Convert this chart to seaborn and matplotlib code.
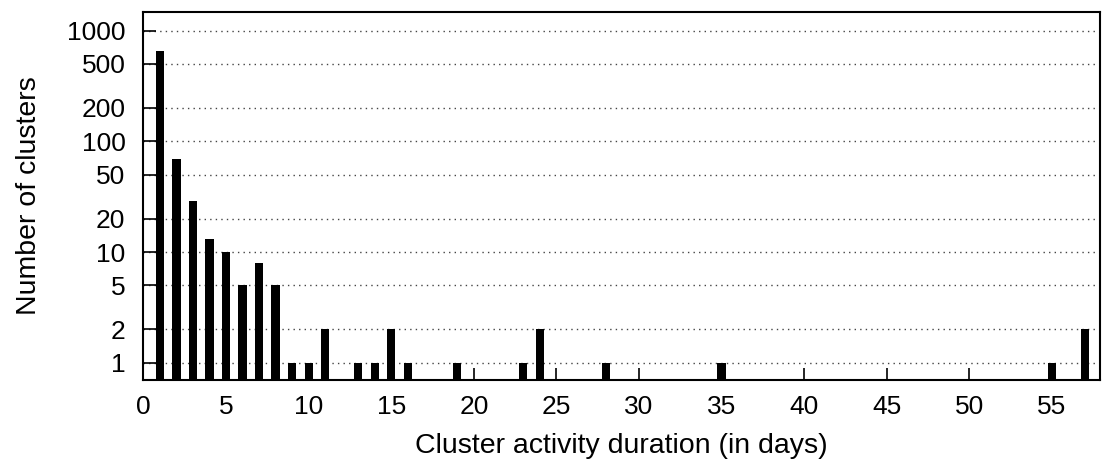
import matplotlib
matplotlib.use("Agg")
import matplotlib.pyplot as plt
from matplotlib.ticker import FixedLocator, FixedFormatter, NullLocator
import pandas as pd
import seaborn as sns

# Activity duration (days) and number of clusters with that duration
days = [1, 2, 3, 4, 5, 6, 7, 8, 9, 10, 11, 13, 14, 15, 16, 19, 23, 24, 28, 35, 55, 57]
clusters = [660, 69, 29, 13, 10, 5, 8, 5, 1, 1, 2, 1, 1, 2, 1, 1, 1, 2, 1, 1, 1, 2]

y_ticks = [1, 2, 5, 10, 20, 50, 100, 200, 500, 1000]
x_ticks = list(range(0, 56, 5))

sns.set_theme(style="white")
plt.rcParams["font.family"] = ["Liberation Sans", "DejaVu Sans"]

df = pd.DataFrame({"days": days, "clusters": clusters})

fig = plt.figure(figsize=(11.02, 4.69), dpi=100)
ax = fig.add_axes([0.1302, 0.19, 0.998 - 0.1302, 0.975 - 0.19])

sns.barplot(data=df, x="days", y="clusters", native_scale=True, width=0.5,
            color="black", saturation=1, linewidth=0, ax=ax, zorder=3)
ax.set_yscale("log")

ax.set_xlim(0, 57.9)
ax.set_ylim(0.7, 1480)

ax.yaxis.set_major_locator(FixedLocator(y_ticks))
ax.yaxis.set_major_formatter(FixedFormatter([str(v) for v in y_ticks]))
ax.yaxis.set_minor_locator(NullLocator())
ax.xaxis.set_major_locator(FixedLocator(x_ticks))
ax.xaxis.set_major_formatter(FixedFormatter([str(v) for v in x_ticks]))
ax.xaxis.set_minor_locator(NullLocator())

ax.tick_params(axis="both", direction="in", length=9, width=1.2, color="black",
               labelsize=19, labelcolor="black")
ax.tick_params(axis="y", pad=13, left=True, right=False)
ax.tick_params(axis="x", pad=11, bottom=True, top=False)

ax.grid(True, axis="y", which="major", linestyle=(0, (1, 3)), color="#444444",
        linewidth=1.0, zorder=0)
ax.grid(False, axis="x")
ax.set_axisbelow(True)

for s in ax.spines.values():
    s.set_visible(True)
    s.set_color("black")
    s.set_linewidth(1.5)

ax.set_xlabel("Cluster activity duration (in days)", fontsize=20.5, color="black", labelpad=10)
ax.set_ylabel("Number of clusters", fontsize=20.5, color="black", labelpad=18)

fig.savefig("out.png", dpi=100)
